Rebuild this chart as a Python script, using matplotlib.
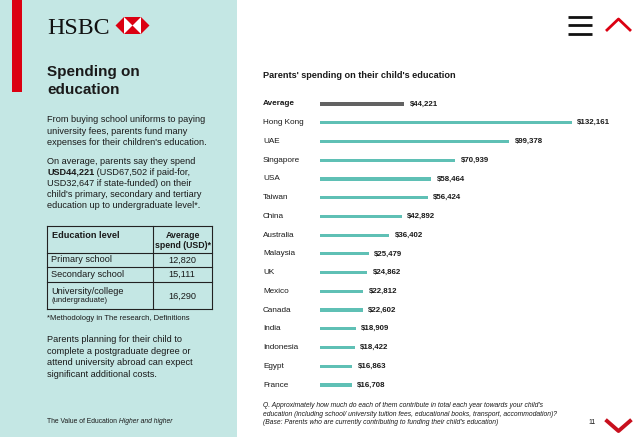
import matplotlib.pyplot as plt
from matplotlib.patches import Rectangle, Polygon

plt.rcParams['font.family'] = ['Liberation Sans', 'DejaVu Sans']

# --- data ---
countries = ['Average', 'Hong Kong', 'UAE', 'Singapore', 'USA', 'Taiwan', 'China',
             'Australia', 'Malaysia', 'UK', 'Mexico', 'Canada', 'India',
             'Indonesia', 'Egypt', 'France']
spend = [44221, 132161, 99378, 70939, 58464, 56424, 42892, 36402, 25479,
         24862, 22812, 22602, 18909, 18422, 16863, 16708]

levels = ['Primary school', 'Secondary school', 'University/college']
level_spend = ['12,820', '15,111', '16,290']

TEAL = '#5fc0b5'
GREY = '#626262'
PANEL = '#c4e7e4'
RED = '#db0011'
INK = '#1a1a1a'

fig = plt.figure(figsize=(6.4, 4.37), dpi=100)

# page layer in pixel coordinates
page = fig.add_axes([0, 0, 1, 1], zorder=0)
page.set_xlim(0, 640)
page.set_ylim(437, 0)
page.axis('off')

page.add_patch(Rectangle((0, 0), 237, 437, color=PANEL, lw=0))
page.add_patch(Rectangle((12, 0), 10, 92, color=RED, lw=0))

# HSBC logo
page.text(47, 33.5, 'HSBC', family='Liberation Serif', fontsize=17.2,
          color='#111111', va='baseline', ha='left')
cx, cy, h = 132.5, 25.5, 8.5
page.add_patch(Polygon([(cx - h, cy - h), (cx + h, cy - h), (cx + h, cy + h),
                        (cx - h, cy + h)], color='white', lw=0))
page.add_patch(Polygon([(cx - h, cy - h), (cx + h, cy - h), (cx, cy)], color=RED, lw=0))
page.add_patch(Polygon([(cx - h, cy + h), (cx + h, cy + h), (cx, cy)], color=RED, lw=0))
page.add_patch(Polygon([(cx - h, cy - h), (cx - h, cy + h), (cx - 2 * h, cy)], color=RED, lw=0))
page.add_patch(Polygon([(cx + h, cy - h), (cx + h, cy + h), (cx + 2 * h, cy)], color=RED, lw=0))

# left column text
page.text(47, 72, 'Spending on', fontsize=11, weight='bold', color=INK, va='center')
page.text(47, 89.5, 'education', fontsize=11, weight='bold', color=INK, va='center')

body = 6.6
for i, line in enumerate(['From buying school uniforms to paying',
                          'university fees, parents fund many',
                          "expenses for their children's education."]):
    page.text(47, 120 + 11.2 * i, line, fontsize=body, color=INK, va='center')

page.text(47, 161, 'On average, parents say they spend', fontsize=body, color=INK, va='center')
t = page.text(47, 172.2, 'USD44,221', fontsize=body, weight='bold', color=INK, va='center')
page.annotate(' (USD67,502 if paid-for,', xy=(1, 0.5), xycoords=t, fontsize=body,
              color=INK, va='center', ha='left')
for i, line in enumerate(['USD32,647 if state-funded) on their',
                          "child's primary, secondary and tertiary",
                          'education up to undergraduate level*.']):
    page.text(47, 183.4 + 11.2 * i, line, fontsize=body, color=INK, va='center')

# table
tl, tr, tdiv = 46.5, 211.5, 153
rows_y = [226, 253, 267, 282, 309]
for y in rows_y:
    page.plot([tl, tr], [y, y], color='#222222', lw=0.8)
for x in (tl, tdiv, tr):
    page.plot([x, x], [rows_y[0], rows_y[-1]], color='#222222', lw=0.8)
ncx = (tdiv + tr) / 2
page.text(52, 235, 'Education level', fontsize=body, weight='bold', color=INK, va='center')
page.text(ncx + 1, 235, 'Average', fontsize=6.3, weight='bold', color=INK, va='center', ha='center')
page.text(ncx + 1, 245.5, 'spend (USD)*', fontsize=6.3, weight='bold', color=INK, va='center', ha='center')
row_mid = [260, 274.5, 296]
for i, (lv, val) in enumerate(zip(levels, level_spend)):
    yy = row_mid[i] - (4.5 if i == 2 else 0)
    page.text(51, yy, lv, fontsize=body, color=INK, va='center')
    page.text(ncx, row_mid[i], val, fontsize=body, color=INK, va='center', ha='center')
page.text(51, 301, '(undergraduate)', fontsize=5.6, color=INK, va='center')

page.text(47, 318, '*Methodology in The research, Definitions', fontsize=5.5, color=INK, va='center')

for i, line in enumerate(['Parents planning for their child to',
                          'complete a postgraduate degree or',
                          'attend university abroad can expect',
                          'significant additional costs.']):
    page.text(47, 340 + 11.4 * i, line, fontsize=body, color=INK, va='center')

t = page.text(47, 421.5, 'The Value of Education', fontsize=4.9, color=INK, va='center')
page.annotate(' Higher and higher', xy=(1, 0.5), xycoords=t, fontsize=4.9, style='italic',
              color=INK, va='center', ha='left')

# top-right icons
for y in (16.5, 25, 33.5):
    page.plot([568, 592], [y, y], color='#111111', lw=2.0, solid_capstyle='butt')
page.plot([607, 618.5, 630], [30, 19, 30], color=RED, lw=2.0)
page.plot([607, 618.5, 630], [421, 431, 421], color='#c8101e', lw=2.8)
page.text(588, 422, '11', fontsize=5, color=INK, va='center')

# chart title and footnote
page.text(263, 75.5, "Parents' spending on their child's education", fontsize=6.6,
          weight='bold', color=INK, va='center')
for i, line in enumerate(["Q. Approximately how much do each of them contribute in total each year towards your child's",
                          'education (including school/ university tuition fees, educational books, transport, accommodation)?',
                          "(Base: Parents who are currently contributing to funding their child's education)"]):
    page.text(263, 405.5 + 8.6 * i, line, fontsize=4.9, style='italic', color=INK, va='center')

# bar chart
px_left, px_right = 320, 620
px_top, px_bot = 94.6, 394.4
ax = fig.add_axes([px_left / 640, 1 - px_bot / 437, (px_right - px_left) / 640,
                   (px_bot - px_top) / 437], zorder=1)
ax.patch.set_alpha(0)
ax.axis('off')
ax.set_xlim(0, spend[1] * (px_right - px_left) / 252)
ax.set_ylim(len(countries) - 0.5, -0.5)

ypos = list(range(len(countries)))
colors = [GREY] + [TEAL] * (len(countries) - 1)
ax.barh(ypos, spend, height=0.17, color=colors, lw=0)

for y, name, v in zip(ypos, countries, spend):
    ax.text(-57 / 300, y, name, transform=ax.get_yaxis_transform(), fontsize=5.9,
            weight='bold' if name == 'Average' else 'normal', color=INK,
            va='center', ha='left')
    ax.annotate('${:,}'.format(v), xy=(v, y), xytext=(3.8, 0), textcoords='offset points',
                fontsize=5.7, weight='bold', color=INK, va='center', ha='left')

fig.savefig('out.png', dpi=100)
